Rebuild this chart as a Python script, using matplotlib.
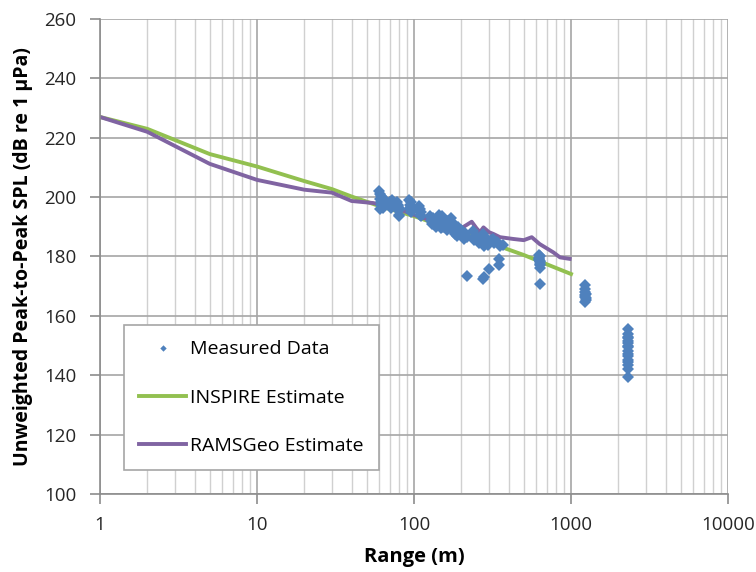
import matplotlib.pyplot as plt
import numpy as np

plt.rcParams['font.family'] = ['Open Sans', 'DejaVu Sans']

# model curves
inspire_x = [1, 2, 5, 10, 20, 30, 40, 60, 100, 200, 500, 1000]
inspire_y = [227.0, 223.0, 214.5, 210.3, 205.4, 202.7, 200.2, 197.0, 193.6, 188.0, 180.5, 174.1]

rams_x = [1, 2, 5, 10, 20, 30, 40, 55, 80, 100, 150, 200, 233, 250, 263, 277, 300, 320, 353, 429, 500, 562, 631, 771, 851, 980]
rams_y = [227.0, 222.0, 211.2, 205.8, 202.5, 201.5, 198.7, 198.0, 196.0, 194.0, 191.0, 189.5, 191.7, 189.5, 188.2, 189.8, 188.2, 187.6, 186.5, 185.9, 185.5, 186.5, 184.2, 181.4, 179.7, 179.2]

# measured data (range m, SPL dB)
meas_x = [60, 61, 61, 62, 62, 63, 63, 64, 65, 62, 61, 63,
          70, 70, 71, 72, 72, 71,
          78, 79, 79, 80, 80, 81, 79,
          93, 94, 94, 95, 96, 95, 94,
          107, 108, 109, 110, 111, 109,
          126, 130, 133, 137, 140, 143, 146, 150, 153, 157, 160, 165, 170, 175, 180, 185, 190, 195, 200, 205, 210, 217,
          130, 138, 145, 155, 162, 172, 182, 195, 208, 128, 135, 148, 158, 168, 178, 188,
          237, 245, 255, 265, 275, 285, 295, 310, 325, 340, 355, 367,
          240, 260, 280, 300, 320, 345, 250, 270, 290,
          217, 277, 279, 300, 347, 347,
          625, 628, 630, 632, 635, 630, 628, 633, 630, 631, 629,
          1230, 1235, 1240, 1232, 1238, 1236, 1234, 1237, 1233,
          2310, 2315, 2320, 2318, 2312, 2316, 2314, 2320, 2310, 2317, 2313, 2319, 2315, 2318, 2312, 2316]
meas_y = [202.0, 201.0, 199.5, 198.5, 197.5, 197.0, 196.5, 198.0, 199.0, 200.5, 196.0, 199.0,
          198.5, 197.5, 197.0, 198.0, 199.0, 196.5,
          198.5, 197.0, 195.5, 194.0, 193.5, 196.0, 197.5,
          199.0, 197.5, 196.0, 195.0, 197.0, 198.5, 196.5,
          197.0, 195.5, 194.0, 193.5, 195.0, 196.0,
          193.5, 192.5, 193.0, 191.5, 192.0, 190.5, 191.0, 193.5, 190.0, 191.5, 189.5, 192.0, 190.5, 189.0, 191.0, 188.5, 190.0, 187.5, 189.0, 187.0, 188.0, 186.5,
          191.0, 190.0, 194.0, 192.5, 189.0, 193.0, 187.5, 188.5, 186.0, 192.0, 191.5, 189.5, 190.5, 191.0, 189.0, 187.0,
          188.5, 187.0, 186.0, 185.0, 187.5, 186.5, 184.0, 185.5, 184.5, 185.0, 183.5, 184.0,
          185.5, 184.5, 183.5, 185.0, 186.0, 184.5, 186.5, 186.0, 185.0,
          173.3, 172.4, 173.2, 175.8, 179.2, 177.0,
          180.5, 179.5, 178.5, 178.0, 177.0, 176.0, 179.0, 177.5, 170.7, 180.0, 178.8,
          170.5, 169.0, 167.5, 166.5, 165.5, 164.5, 168.0, 166.0, 167.0,
          155.5, 154.0, 152.5, 151.0, 149.5, 148.0, 146.5, 145.0, 143.5, 142.0, 139.5, 150.0, 153.0, 147.0, 144.5, 151.5]

fig = plt.figure(figsize=(7.56, 5.72), dpi=100)
ax = fig.add_axes([0.1323, 0.1364, 0.8307, 0.8304])

ax.plot(meas_x, meas_y, 'D', color='#4F81BD', markersize=6.5, markeredgewidth=0, label='Measured Data', zorder=3)
ax.plot(inspire_x, inspire_y, color='#92C050', lw=2.8, label='INSPIRE Estimate', zorder=2)
ax.plot(rams_x, rams_y, color='#8064A2', lw=2.8, label='RAMSGeo Estimate', zorder=2)

ax.set_xscale('log')
ax.set_xlim(1, 10000)
ax.set_ylim(100, 260)
ax.set_yticks(np.arange(100, 261, 20))
ax.set_xticks([1, 10, 100, 1000, 10000])
ax.set_xticklabels(['1', '10', '100', '1000', '10000'])

ax.grid(True, which='major', axis='both', color='#a6a6a6', lw=1.2)
ax.grid(True, which='minor', axis='x', color='#d0d0d0', lw=1.0)
ax.set_axisbelow(True)

for s in ['top', 'right']:
    ax.spines[s].set_visible(False)
for s in ['left', 'bottom']:
    ax.spines[s].set_color('#8c8c8c')
    ax.spines[s].set_linewidth(1.2)
ax.tick_params(axis='both', which='major', length=7, color='#8c8c8c', width=1.2, labelsize=13.5, labelcolor='#262626')
ax.tick_params(axis='y', pad=10)
ax.tick_params(axis='x', pad=9)
ax.tick_params(axis='x', which='minor', length=0)

ax.set_xlabel('Range (m)', fontsize=14.5, fontweight='bold', labelpad=9)
ax.set_ylabel('Unweighted Peak-to-Peak SPL (dB re 1 µPa)', fontsize=14, fontweight='bold', labelpad=8)

leg = ax.legend(loc='lower left', bbox_to_anchor=(0.038, 0.05), borderaxespad=0, fontsize=14, frameon=True,
                fancybox=False, edgecolor='#a6a6a6', framealpha=1, handlelength=2.4, labelspacing=1.55,
                borderpad=0.8, handletextpad=0.2, markerscale=0.5)
leg.get_frame().set_linewidth(1.2)

fig.savefig('out.png', dpi=100)
